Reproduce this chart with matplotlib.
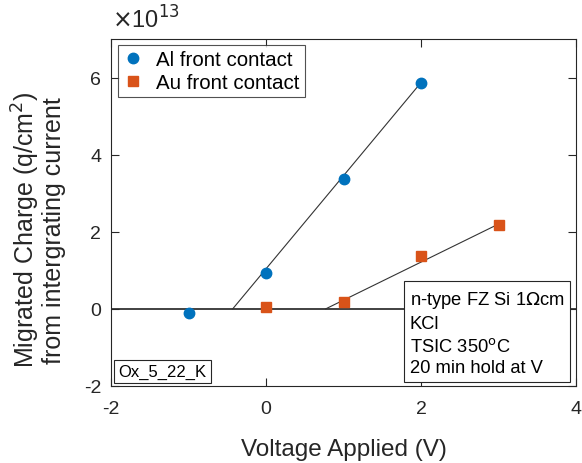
import numpy as np
import matplotlib.pyplot as plt

plt.rcParams['font.family'] = ['Liberation Sans', 'DejaVu Sans']
plt.rcParams['axes.unicode_minus'] = False

# data (units of 1e13 q/cm^2)
al_v = [-1, 0, 1, 2]
al_q = [-0.1, 0.93, 3.37, 5.87]
au_v = [0, 1, 2, 3]
au_q = [0.05, 0.18, 1.37, 2.18]

# fit lines: start at threshold voltage on zero, end at last point
al_fit_v = [-0.43, 2]
al_fit_q = [0, 5.87]
au_fit_v = [0.77, 3]
au_fit_q = [0, 2.2]

fig = plt.figure(figsize=(5.82, 4.64), dpi=100)
ax = fig.add_axes([111/582, 1 - 387/464, 465/582, 347/464])

ax.axhline(0, color='#333333', lw=1.3, zorder=1)
ax.plot(al_fit_v, al_fit_q, color='#333333', lw=0.8, zorder=1)
ax.plot(au_fit_v, au_fit_q, color='#333333', lw=0.8, zorder=1)
ax.plot(al_v, al_q, 'o', color='#0072BD', ms=7.5, ls='none', label='Al front contact', zorder=3)
ax.plot(au_v, au_q, 's', color='#D95319', ms=6.5, ls='none', label='Au front contact', zorder=3)

ax.set_xlim(-2, 4)
ax.set_ylim(-2, 7)
ax.set_xticks([-2, 0, 2, 4])
ax.set_yticks([-2, 0, 2, 4, 6])
ax.tick_params(direction='in', top=True, right=True, labelsize=14, colors='#262626', length=6)
ax.tick_params(axis='x', pad=10)
ax.tick_params(axis='y', pad=7)
for s in ax.spines.values():
    s.set_color('#262626')
    s.set_linewidth(0.8)

ax.set_xlabel('Voltage Applied (V)', fontsize=17.5, color='#262626', labelpad=15)
ax.set_ylabel('Migrated Charge (q/cm$^2$)\nfrom intergrating current', fontsize=18, color='#262626',
              linespacing=1.0)
ax.yaxis.set_label_coords(-0.097, 0.452)
fig.text(112/582, 1 - 20/464, r'$\times$10$^{13}$', fontsize=17, color='#262626', va='center')

leg = ax.legend(loc='upper left', fontsize=14.8, frameon=True, fancybox=False, edgecolor='#262626',
                handlelength=1.0, handletextpad=0.6, borderpad=0.25, labelspacing=0.2,
                borderaxespad=0, bbox_to_anchor=(0.015, 0.983))
leg.get_frame().set_linewidth(0.8)

ax.text(0.643, 0.28, 'n-type FZ Si 1$\\Omega$cm\nKCl\nTSIC 350$^\\mathrm{o}$C\n20 min hold at V',
        transform=ax.transAxes, fontsize=13.2, va='top', ha='left', linespacing=1.36,
        bbox=dict(boxstyle='square,pad=0.3', fc='white', ec='#262626', lw=0.8))
ax.text(0.016, 0.02, 'Ox_5_22_K', transform=ax.transAxes, fontsize=12, va='bottom', ha='left',
        bbox=dict(boxstyle='square,pad=0.25', fc='white', ec='#262626', lw=0.8))

fig.savefig('out.png', dpi=100)
